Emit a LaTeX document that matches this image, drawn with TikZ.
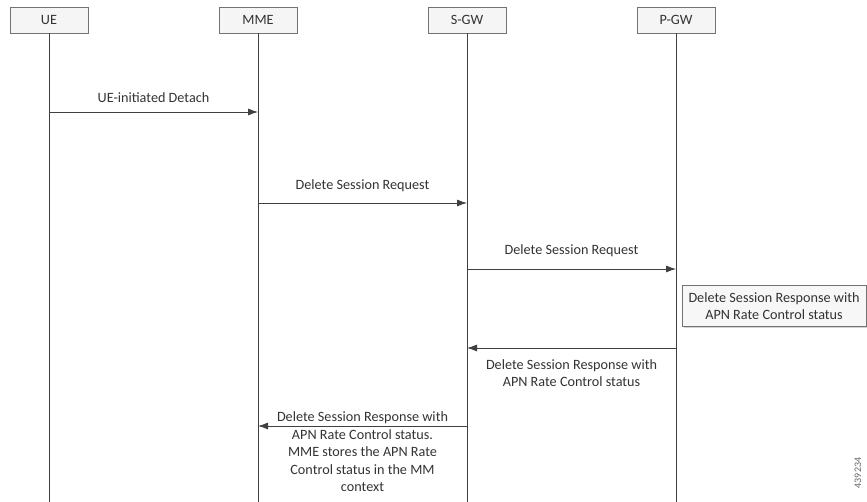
\documentclass[tikz,border=0pt]{standalone}
\usepackage{fontspec}
\setmainfont{Carlito}
\usetikzlibrary{arrows.meta, positioning, shadows}

\begin{document}
\begin{tikzpicture}[x=1pt, y=-1pt,
  every node/.style={font=\fontsize{14.2}{17.5}\selectfont, text=black!80},
  actor/.style={rectangle, minimum width=78pt, minimum height=26pt, text centered, draw=black!55, fill=black!4, drop shadow={shadow xshift=1pt, shadow yshift=-1pt, opacity=0.35}},
  note/.style={rectangle, minimum width=184pt, minimum height=41pt, text centered, align=center, inner sep=1pt, draw=black!55, fill=black!3, drop shadow={shadow xshift=1.5pt, shadow yshift=-1.5pt, opacity=0.35}},
  lifeline/.style={draw=black!75, line width=0.8pt},
  arrow/.style={draw=black!75, line width=0.8pt, -{Latex[length=10pt, width=7pt]}}]

  \useasboundingbox (0,0) rectangle (867,502);

  % Nodes
  \node (ue) [actor] at (49,20) {UE};
  \node (mme) [actor] at (258,20) {MME};
  \node (sgw) [actor] at (467,20) {S-GW};
  \node (pgw) [actor] at (676,20) {P-GW};

  \node (pgwresp) [note] at (774,306) {Delete Session Response with \\ APN Rate Control status};

  \node (figid) [rotate=90, font=\fontsize{10}{12}\selectfont, text=black!60] at (858,473) {439234};

  \coordinate (bottom) at (0,502);
  \coordinate (detach) at (0,112);
  \coordinate (mmereq) at (0,203);
  \coordinate (sgwreq) at (0,269);
  \coordinate (pgwrsp) at (0,348);
  \coordinate (sgwrsp) at (0,426);

  % Lifelines
  \draw [lifeline] (ue) -- (ue |- bottom);
  \draw [lifeline] (mme) -- (mme |- bottom);
  \draw [lifeline] (sgw) -- (sgw |- bottom);
  \draw [lifeline] (pgw) -- (pgw |- bottom);

  % Arrows
  \draw [arrow] (ue |- detach) -- (mme |- detach) node[midway, yshift=14pt] {UE-initiated Detach};
  \draw [arrow] (mme |- mmereq) -- (sgw |- mmereq) node[midway, yshift=17pt] {Delete Session Request};
  \draw [arrow] (sgw |- sgwreq) -- (pgw |- sgwreq) node[midway, yshift=18pt] {Delete Session Request};
  \draw [arrow] (pgw |- pgwrsp) -- (sgw |- pgwrsp) node[midway, yshift=-25pt, align=center] {Delete Session Response with \\ APN Rate Control status};
  \draw [arrow] (sgw |- sgwrsp) -- (mme |- sgwrsp) node[midway, yshift=-26pt, align=center] {Delete Session Response with \\ APN Rate Control status. \\ MME stores the APN Rate \\ Control status in the MM \\ context};

\end{tikzpicture}
\end{document}
